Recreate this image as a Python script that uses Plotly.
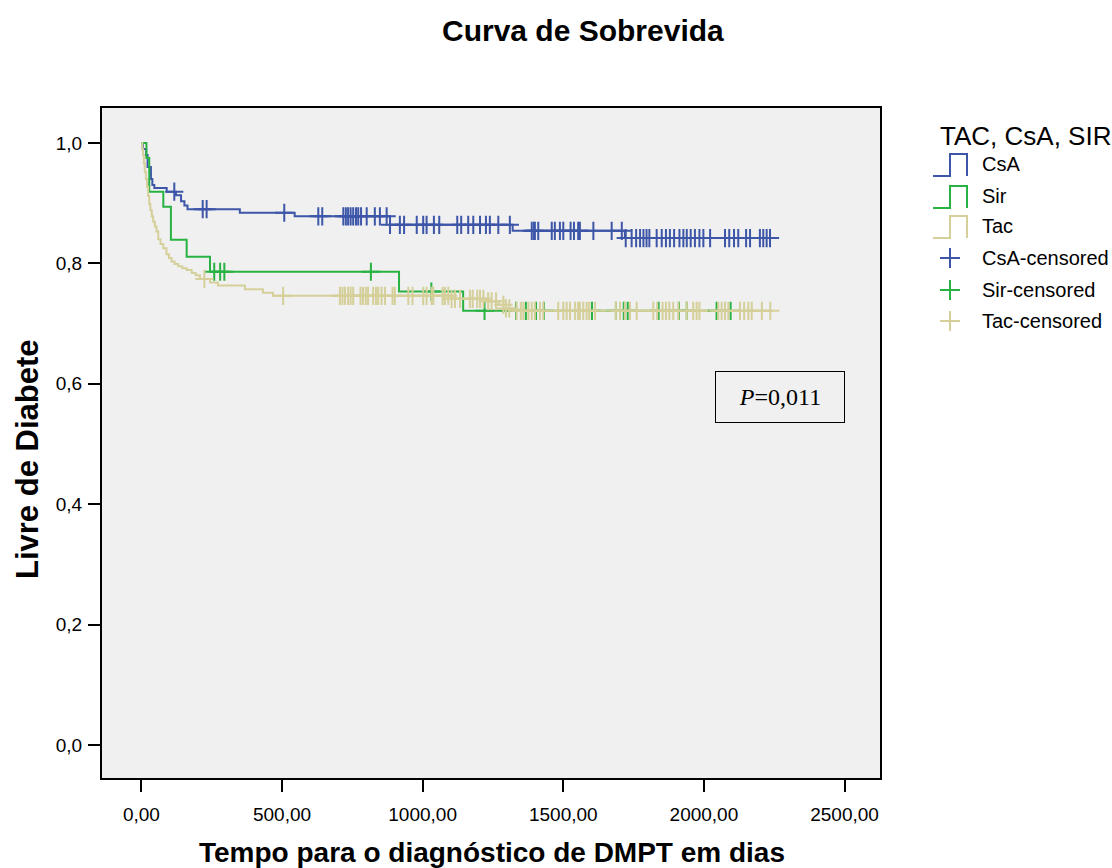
import numpy as np
import plotly.graph_objects as go

# ---------------- data ----------------
x_tick_vals = [0, 500, 1000, 1500, 2000, 2500]
x_tick_text = ["0,00", "500,00", "1000,00", "1500,00", "2000,00", "2500,00"]
y_tick_vals = [0.0, 0.2, 0.4, 0.6, 0.8, 1.0]
y_tick_text = ["0,0", "0,2", "0,4", "0,6", "0,8", "1,0"]

# CsA
csa_t = [0, 5, 17, 22, 34, 39, 46, 90, 123, 141, 153, 164, 350, 545, 884, 1320, 1719]
csa_s = [1.0, 0.99, 0.98, 0.96, 0.94, 0.93, 0.925, 0.919, 0.913, 0.903, 0.896, 0.890,
         0.884, 0.878, 0.864, 0.854, 0.842]
csa_end = 2245
csa_cens = [117, 218, 232, 508, 629, 643, 718, 727, 735, 744, 753, 763, 771, 781, 801,
            830, 848, 872, 884, 919, 934, 979, 1002, 1014, 1040, 1059, 1123, 1137, 1162,
            1180, 1204, 1225, 1239, 1269, 1310, 1388, 1396, 1399, 1411, 1459, 1470, 1488,
            1500, 1526, 1538, 1553, 1559, 1607, 1672, 1708, 1722, 1743, 1759, 1773, 1785,
            1796, 1806, 1832, 1850, 1865, 1879, 1894, 1913, 1927, 1939, 1953, 1968, 1984,
            1998, 2022, 2075, 2090, 2107, 2122, 2150, 2164, 2199, 2211, 2223, 2235]

# Sir
sir_t = [0, 18, 28, 78, 105, 161, 244, 916, 1144]
sir_s = [1.0, 0.975, 0.919, 0.894, 0.839, 0.811, 0.786, 0.753, 0.721]
sir_end = 2100
sir_cens = [259, 280, 295, 816, 1031, 1220, 1332, 1367, 1403, 1431, 1602, 1687, 1715,
            1729, 1839, 1911, 1939, 2045, 2095]

# Tac
tac_t = [0, 3, 6, 9, 12, 16, 20, 24, 28, 32, 37, 42, 48, 54, 60, 68, 78, 89, 98, 107,
         118, 131, 145, 161, 179, 193, 208, 244, 272, 368, 432, 468, 1100, 1230, 1271,
         1296, 1320]
tac_s = [1.0, 0.99, 0.98, 0.966, 0.952, 0.94, 0.927, 0.912, 0.898, 0.888, 0.878, 0.869,
         0.861, 0.853, 0.840, 0.832, 0.825, 0.815, 0.809, 0.803, 0.799, 0.795, 0.792,
         0.789, 0.784, 0.780, 0.774, 0.768, 0.763, 0.757, 0.751, 0.746, 0.741, 0.737,
         0.731, 0.725, 0.721]
tac_end = 2245
tac_cens = [224, 504, 706, 715, 724, 735, 744, 753, 779, 788, 798, 806, 824, 834, 842,
            854, 866, 893, 901, 949, 964, 1002, 1014, 1032, 1038, 1071, 1079, 1091, 1103,
            1115, 1133, 1168, 1178, 1194, 1204, 1216, 1233, 1245, 1261, 1287, 1296, 1308,
            1334, 1349, 1358, 1376, 1388, 1399, 1417, 1429, 1482, 1500, 1512, 1524, 1542,
            1553, 1559, 1571, 1583, 1592, 1613, 1687, 1702, 1719, 1737, 1761, 1820, 1834,
            1853, 1865, 1877, 1891, 1909, 1939, 1962, 1974, 1984, 2051, 2063, 2075, 2087,
            2128, 2143, 2158, 2170, 2206, 2236]

group_names = ["CsA", "Sir", "Tac"]
group_colors = ["#3d56a8", "#27b242", "#d5cf99"]

# ---------------- helpers ----------------
def surv_at(t, s, x):
    idx = np.searchsorted(np.array(t), np.array(x), side="right") - 1
    return np.array(s)[idx]

groups = [
    (csa_t, csa_s, csa_end, csa_cens),
    (sir_t, sir_s, sir_end, sir_cens),
    (tac_t, tac_s, tac_end, tac_cens),
]

fig = go.Figure()

for (t, s, end, _), name, col in zip(groups, group_names, group_colors):
    fig.add_trace(go.Scatter(
        x=list(t) + [end], y=list(s) + [s[-1]], mode="lines",
        line=dict(color=col, width=2, shape="hv"), name=name, showlegend=False,
        hoverinfo="skip"))

for (t, s, end, cens), name, col in zip(groups, group_names, group_colors):
    fig.add_trace(go.Scatter(
        x=cens, y=surv_at(t, s, cens), mode="markers",
        marker=dict(symbol="cross-thin", size=13, line=dict(color=col, width=2)),
        name=name + "-censored", showlegend=False, hoverinfo="skip"))

# ---------------- layout ----------------
L, R, T, B = 102, 880, 108, 778
W, H = 1112, 868

def px2x(px):
    return (px - L) / (R - L)

def py2y(py):
    return (B - py) / (B - T)

font_family = "Liberation Sans, Arial, sans-serif"

fig.update_layout(
    width=W, height=H,
    margin=dict(l=L, r=W - R, t=T, b=H - B, pad=0),
    paper_bgcolor="white", plot_bgcolor="#f0f0f0",
    font=dict(family=font_family, color="black", size=19),
    showlegend=False,
)

fig.update_xaxes(
    range=[-140, 2626], tickmode="array", tickvals=x_tick_vals, ticktext=x_tick_text,
    showgrid=False, zeroline=False, showline=True, linecolor="black", linewidth=2,
    mirror=True, ticks="outside", ticklen=12, tickwidth=2, tickcolor="black",
    ticklabelstandoff=6,
    tickfont=dict(size=19, family=font_family), fixedrange=True)
fig.update_yaxes(
    range=[-0.055, 1.058], tickmode="array", tickvals=y_tick_vals, ticktext=y_tick_text,
    showgrid=False, zeroline=False, showline=True, linecolor="black", linewidth=2,
    mirror=True, ticks="outside", ticklen=12, tickwidth=2, tickcolor="black",
    ticklabelstandoff=2,
    tickfont=dict(size=19, family=font_family), fixedrange=True)

annotations = []
# title
annotations.append(dict(text="<b>Curva de Sobrevida</b>", xref="paper", yref="paper",
                        x=px2x(583), y=py2y(30), xanchor="center", yanchor="middle",
                        showarrow=False, font=dict(size=30, family=font_family)))
# axis titles
annotations.append(dict(text="<b>Tempo para o diagnóstico de DMPT em dias</b>",
                        xref="paper", yref="paper", x=px2x(492), y=py2y(852),
                        xanchor="center", yanchor="middle", showarrow=False,
                        font=dict(size=28, family=font_family)))
annotations.append(dict(text="<b>Livre de Diabete</b>", xref="paper", yref="paper",
                        x=px2x(27), y=py2y(460), xanchor="center", yanchor="middle",
                        textangle=-90, showarrow=False,
                        font=dict(size=31, family=font_family)))
# P value box
annotations.append(dict(text="<i>P</i>=0,011", xref="paper", yref="paper",
                        x=px2x(780), y=py2y(397), xanchor="center", yanchor="middle",
                        showarrow=False, width=128, height=50, borderpad=0,
                        bordercolor="black", borderwidth=1, bgcolor="#f0f0f0",
                        font=dict(size=24, family="Liberation Serif, Times New Roman, serif")))

# legend (drawn manually to reproduce the step icons)
annotations.append(dict(text="TAC, CsA, SIR", xref="paper", yref="paper",
                        x=px2x(938), y=py2y(136), xanchor="left", yanchor="middle",
                        showarrow=False, font=dict(size=26, family=font_family)))
shapes = []
step_centers = [165, 197, 227]
plus_centers = [258, 290, 321]
for name, col, c in zip(group_names, group_colors, step_centers):
    path = "M {} {} L {} {} L {} {} L {} {} L {} {}".format(
        px2x(933), py2y(c + 11), px2x(950), py2y(c + 11), px2x(950), py2y(c - 11),
        px2x(967), py2y(c - 11), px2x(967), py2y(c + 11))
    shapes.append(dict(type="path", path=path, xref="paper", yref="paper",
                       line=dict(color=col, width=2)))
    annotations.append(dict(text=name, xref="paper", yref="paper", x=px2x(980),
                            y=py2y(c - 1), xanchor="left", yanchor="middle",
                            showarrow=False, font=dict(size=20, family=font_family)))
for name, col, c in zip(group_names, group_colors, plus_centers):
    shapes.append(dict(type="line", xref="paper", yref="paper", x0=px2x(940), x1=px2x(960),
                       y0=py2y(c), y1=py2y(c), line=dict(color=col, width=2)))
    shapes.append(dict(type="line", xref="paper", yref="paper", x0=px2x(950), x1=px2x(950),
                       y0=py2y(c - 10), y1=py2y(c + 10), line=dict(color=col, width=2)))
    annotations.append(dict(text=name + "-censored", xref="paper", yref="paper",
                            x=px2x(980), y=py2y(c), xanchor="left", yanchor="middle",
                            showarrow=False, font=dict(size=20, family=font_family)))

fig.update_layout(annotations=annotations, shapes=shapes)

fig.write_html("out.html")
